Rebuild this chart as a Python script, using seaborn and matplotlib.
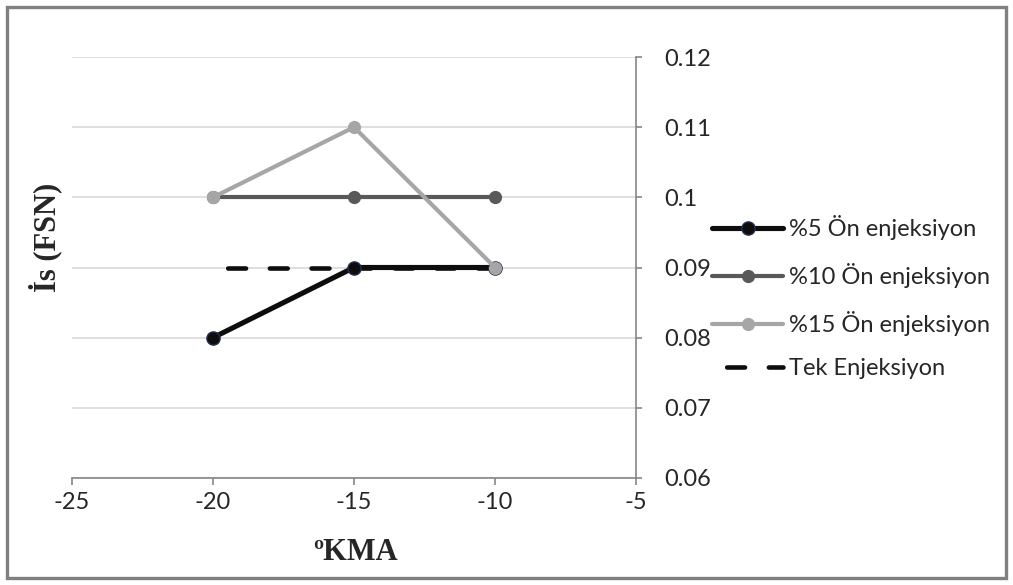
import numpy as np
import pandas as pd
import matplotlib
matplotlib.use('Agg')
import matplotlib.pyplot as plt
from matplotlib.patches import Rectangle
import seaborn as sns

# data
kma = [-20, -15, -10]
on5 = [0.08, 0.09, 0.09]
on10 = [0.10, 0.10, 0.10]
on15 = [0.10, 0.11, 0.09]
tek = [0.09, 0.09, 0.09]
labels = ['%5 Ön enjeksiyon', '%10 Ön enjeksiyon', '%15 Ön enjeksiyon', 'Tek Enjeksiyon']
xticks = [-25, -20, -15, -10, -5]
yticks = [0.06, 0.07, 0.08, 0.09, 0.1, 0.11, 0.12]

sns.set_style('white')
plt.rcParams['font.family'] = ['Lato', 'DejaVu Sans']

fig = plt.figure(figsize=(10.13, 5.85), dpi=100)
ax = fig.add_axes([72/1013, 1-478/585, (636-72)/1013, (478-57)/585])

df = pd.DataFrame({'x': kma * 4,
                   'y': on5 + on10 + on15 + tek,
                   'seri': sum([[l]*3 for l in labels], [])})

# dashed single-injection line at the bottom
sns.lineplot(data=df[df.seri == labels[3]], x='x', y='y', ax=ax, color='#0d0d0d',
             linewidth=3.3, dashes=False, label=labels[3], zorder=2)
ax.lines[-1].set_linestyle((5.9, (3.9, 5.2)))
ax.lines[-1].set_dash_capstyle('round')
sns.lineplot(data=df[df.seri == labels[0]], x='x', y='y', ax=ax, color='#0d0d0d',
             linewidth=3.7, marker='o', markersize=9.5, markerfacecolor='#0d0d0d',
             markeredgecolor='#1f3050', markeredgewidth=1, label=labels[0], zorder=3)
sns.lineplot(data=df[df.seri == labels[1]], x='x', y='y', ax=ax, color='#595959',
             linewidth=3, marker='o', markersize=9.5, markeredgewidth=0,
             label=labels[1], zorder=4)
sns.lineplot(data=df[df.seri == labels[2]], x='x', y='y', ax=ax, color='#a6a6a6',
             linewidth=3, marker='o', markersize=9.5, markeredgewidth=0,
             label=labels[2], zorder=5)

ax.set_xlim(-25, -5)
ax.set_ylim(0.06, 0.12)
ax.set_xticks(xticks)
ax.set_xticklabels([str(v) for v in xticks])
ax.set_yticks(yticks)
ax.set_yticklabels(['0.06', '0.07', '0.08', '0.09', '0.1', '0.11', '0.12'])
ax.yaxis.tick_right()
ax.grid(axis='y', color='#d9d9d9', linewidth=1.2)
ax.grid(axis='x', visible=False)
for s in ['top', 'left']:
    ax.spines[s].set_visible(False)
for s in ['bottom', 'right']:
    ax.spines[s].set_color('#868686')
    ax.spines[s].set_linewidth(1.2)
ax.tick_params(axis='x', direction='out', length=5, width=1.2, color='#868686',
               labelsize=17, pad=5, bottom=True)
ax.tick_params(axis='y', direction='out', length=4, width=1.2, color='#868686',
               labelsize=17, pad=16, right=True, left=False)
ax.set_xlabel('')
ax.set_ylabel('')
fig.text(355/1013, 1-553/585, 'ºKMA', family='Liberation Serif', fontweight='bold',
         fontsize=22, ha='center', va='center')
fig.text(45/1013, 1-237/585, 'İs (FSN)', family='Liberation Serif', fontweight='bold',
         fontsize=22, rotation=90, ha='center', va='center')

# legend order as in the chart
h, l = ax.get_legend_handles_labels()
order = [l.index(x) for x in labels]
ax.legend([h[i] for i in order], labels, loc='upper left',
          bbox_to_anchor=(703/1013, 1-206/585), bbox_transform=fig.transFigure,
          frameon=False, fontsize=17, handlelength=3.0, handletextpad=0.25,
          labelspacing=0.96, numpoints=1, borderaxespad=0)

fig.patches.append(Rectangle((7/1013, 7/585), 999/1013, 571/585, transform=fig.transFigure,
                             fill=False, edgecolor='#808080', linewidth=2.4))

plt.savefig('out.png', dpi=100)
